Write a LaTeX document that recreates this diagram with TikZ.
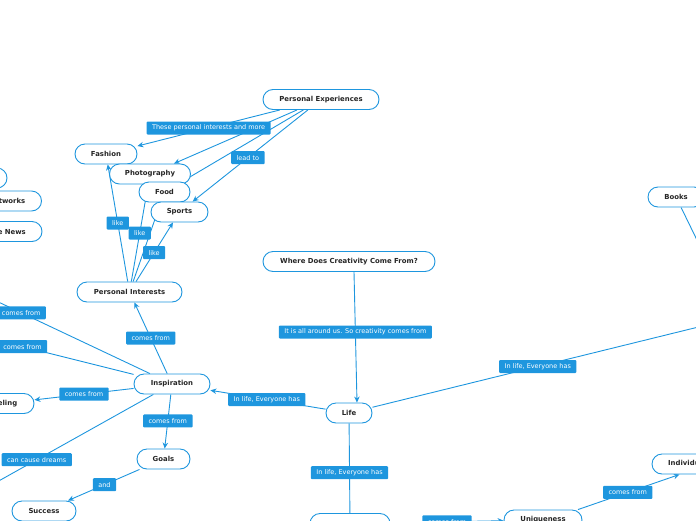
\documentclass[tikz,border=0pt]{standalone}
\usepackage{fontspec}
\setmainfont{DejaVu Sans}
\usetikzlibrary{arrows.meta, backgrounds}
\definecolor{mapblue}{RGB}{30,150,222}

\begin{document}
\begin{tikzpicture}[x=1pt,y=-1pt,
  idea/.style={rectangle,draw=mapblue,fill=white,rounded corners=10pt,line width=0.9pt,minimum height=20pt,inner sep=0pt,font=\fontsize{6.9}{8}\selectfont\bfseries,text=black!85},
  lbl/.style={rectangle,fill=mapblue,text=white,rounded corners=1pt,minimum height=13pt,inner xsep=5.5pt,inner ysep=0pt,font=\fontsize{6.5}{7.5}\selectfont},
  rel/.style={-{Stealth[length=6pt,width=5.5pt]},line width=0.9pt,mapblue},
  bare/.style={line width=0.9pt,mapblue}
]
  \useasboundingbox (0,0) rectangle (696,520);
  \clip (0,0) rectangle (696,520);
  \node[idea,minimum width=116pt](pe) at (321,99.5) {Personal Experiences};
  \node[idea,minimum width=62pt](fashion) at (106,154) {Fashion};
  \node[idea,minimum width=81pt](photo) at (150,174) {Photography};
  \node[idea,minimum width=51pt](food) at (164.5,192) {Food};
  \node[idea,minimum width=57pt](sports) at (179.5,212) {Sports};
  \node[idea,minimum width=105pt](pint) at (129.5,292) {Personal Interests};
  \node[idea,minimum width=172pt](where) at (349,261.5) {Where Does Creativity Come From?};
  \node[idea,minimum width=46pt](life) at (349,413) {Life};
  \node[idea,minimum width=76pt](insp) at (172,384) {Inspiration};
  \node[idea,minimum width=53pt](goals) at (163.5,459) {Goals};
  \node[idea,minimum width=64pt](success) at (44,511) {Success};
  \node[idea,minimum width=62pt](feeling) at (3,403.5) {Feeling};
  \node[idea,minimum width=60pt](topleft) at (-23,178) {};
  \node[idea,minimum width=95pt](networks) at (-6,201) {Social Networks};
  \node[idea,minimum width=70pt](news) at (7,231.5) {The News};
  \node[idea,minimum width=56pt](books) at (676,197) {Books};
  \node[idea,minimum width=81pt](indiv) at (692.5,464) {Individuality};
  \node[idea,minimum width=78pt](uniq) at (543,520) {Uniqueness};
  \node[idea,minimum width=80pt](below) at (350,523.5) {};
  \coordinate (offA) at (-80,265);
  \coordinate (offB) at (-80,321);
  \coordinate (offC) at (-80,525);
  \coordinate (rhs) at (735,318);
  \begin{scope}[on background layer]
    \clip (0,0) rectangle (696,520);
    \draw[rel](pe)--(photo);
    \draw[rel](pe)--(food);
    \draw[rel](pe)--node[lbl,pos=0.5]{These personal interests and more}(fashion);
    \draw[rel](pe)--node[lbl,pos=0.52]{lead to}(sports);
    \draw[rel](pint)--(food);
    \draw[rel](pint)--node[lbl,pos=0.5]{like}(fashion);
    \draw[rel](pint)--node[lbl,pos=0.5]{like}(photo);
    \draw[rel](pint)--node[lbl,pos=0.49]{like}(sports);
    \draw[rel](insp)--node[lbl,pos=0.5]{comes from}(pint);
    \draw[rel](insp)--node[lbl,pos=0.56]{comes from}(offA);
    \draw[rel](insp)--node[lbl,pos=0.52]{comes from}(offB);
    \draw[rel](insp)--node[lbl,pos=0.5]{comes from}(feeling);
    \draw[rel](insp)--node[lbl,pos=0.5]{can cause dreams}(offC);
    \draw[rel](insp)--node[lbl,pos=0.49]{comes from}(goals);
    \draw[rel](goals)--node[lbl,pos=0.49]{and}(success);
    \draw[rel]([xshift=5pt]where.south)--node[lbl,pos=0.46]{It is all around us. So creativity comes from}([xshift=8pt]life.north);
    \draw[rel](life)--node[lbl,pos=0.51]{In life, Everyone has}(insp);
    \draw[rel](books)--(rhs);
    \draw[rel](life)--node[lbl,pos=0.456]{In life, Everyone has}(rhs);
    \draw[bare](life)--node[lbl,pos=0.55]{In life, Everyone has}(below);
    \draw[rel](below)--node[lbl,pos=0.5]{comes from}(uniq);
    \draw[rel]([xshift=35pt]uniq.north)--node[lbl,pos=0.49]{comes from}([xshift=-13pt]indiv.south);
  \end{scope}
\end{tikzpicture}
\end{document}
